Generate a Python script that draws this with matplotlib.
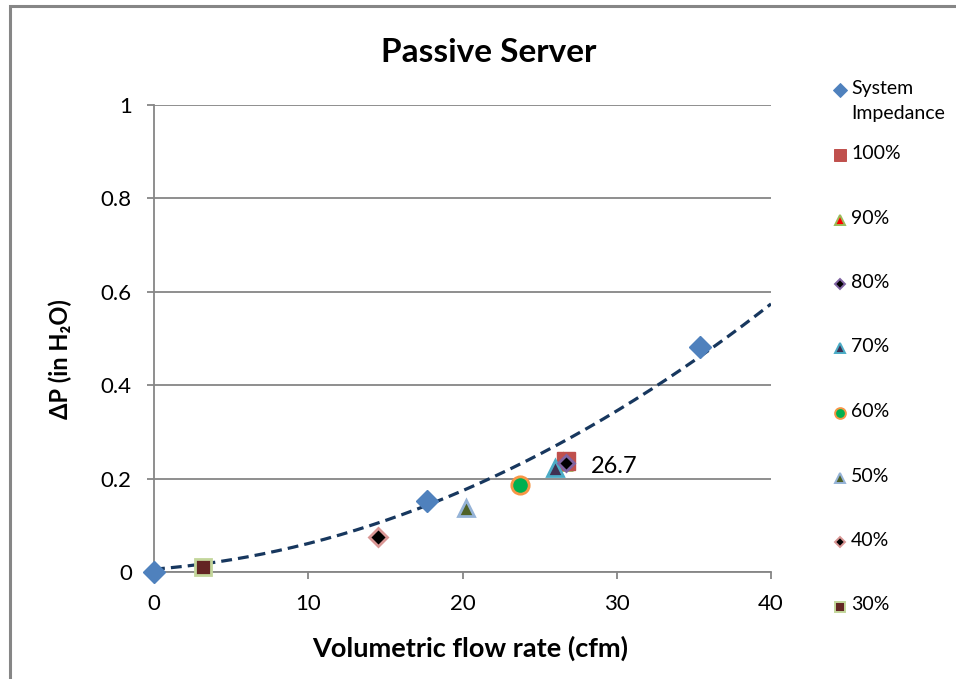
import numpy as np
import matplotlib
matplotlib.use("Agg")
import matplotlib.pyplot as plt
from matplotlib.lines import Line2D
from matplotlib.patches import Rectangle

plt.rcParams['font.family'] = ['Lato', 'DejaVu Sans']

# flow rate (cfm) / pressure drop (in H2O)
sys_x = [0.0, 17.7, 35.4]
sys_y = [0.0, 0.152, 0.482]

fan_labels = ["100%", "90%", "80%", "70%", "60%", "50%", "40%", "30%"]
fan_x = [26.7, 26.5, 26.7, 26.0, 23.7, 20.2, 14.5, 3.2]
fan_y = [0.238, 0.235, 0.234, 0.222, 0.186, 0.137, 0.075, 0.011]

# 2nd order trendline y = a x^2 + b x + c
trend_coef = [2.9e-4, 0.0026, 0.006]

# marker, fill, edge, size, edge width
sys_style = ("D", "#4F81BD", "#4F81BD", 11.5, 1.0)
fan_styles = [
    ("s", "#C0504D", "#C0504D", 13, 1.0),
    ("^", "#FF0000", "#9BBB59", 12, 2.0),
    ("D", "#000000", "#8064A2", 8.5, 2.0),
    ("^", "#403152", "#4BACC6", 12, 2.0),
    ("o", "#00B050", "#F79646", 12.5, 2.0),
    ("^", "#4F6228", "#95B3D7", 12, 2.0),
    ("D", "#000000", "#D99694", 9, 2.0),
    ("s", "#632523", "#C3D69B", 12, 2.0),
]

fig = plt.figure(figsize=(9.56, 6.79), dpi=100)
ax = fig.add_axes([0.1611, 0.1576, 0.6454, 0.6878])

# chart frame
fig.add_artist(Rectangle((10 / 956, -0.01), 1.0, 1 - 6 / 679 + 0.01,
                         transform=fig.transFigure, fill=False,
                         edgecolor="#868686", linewidth=2.2))

xs = np.linspace(0, 40, 200)
ax.plot(xs, np.polyval(trend_coef, xs), color="#17375E", linewidth=2.3,
        dashes=(3.4, 1.9), zorder=3)

m, fc, ec, ms, mew = sys_style
ax.plot(sys_x, sys_y, linestyle="none", marker=m, markerfacecolor=fc,
        markeredgecolor=ec, markersize=ms, markeredgewidth=mew, zorder=4,
        clip_on=False)

# draw the low speeds first so the 100% marker sits under 80%
order = [1, 0, 7, 6, 5, 4, 3, 2]
for i in order:
    m, fc, ec, ms, mew = fan_styles[i]
    ax.plot(fan_x[i], fan_y[i], linestyle="none", marker=m, markerfacecolor=fc,
            markeredgecolor=ec, markersize=ms, markeredgewidth=mew, zorder=5,
            clip_on=False)

ax.annotate(f"{fan_x[0]:.1f}", (fan_x[0], fan_y[0]), xytext=(18, -4),
            textcoords="offset points", fontsize=17, va="center", ha="left")

ax.set_xlim(0, 40)
ax.set_ylim(0, 1)
ax.set_xticks(range(0, 41, 10))
ax.set_yticks([0, 0.2, 0.4, 0.6, 0.8, 1.0])
ax.set_yticklabels(["0", "0.2", "0.4", "0.6", "0.8", "1"])
ax.grid(axis="y", color="#868686", linewidth=1.3)
ax.set_axisbelow(True)
for s in ["top", "right"]:
    ax.spines[s].set_visible(False)
for s in ["left", "bottom"]:
    ax.spines[s].set_color("#868686")
    ax.spines[s].set_linewidth(1.3)
ax.tick_params(length=5, width=1.3, color="#868686", labelsize=16)
ax.tick_params(axis="x", pad=11)
ax.tick_params(axis="y", pad=11)

fig.text(489 / 956, 1 - 52 / 679, "Passive Server", fontsize=24,
         fontweight="bold", ha="center", va="center")
ax.set_xlabel("Volumetric flow rate (cfm)", fontsize=19.5, fontweight="bold")
ax.xaxis.set_label_coords(0.512, -0.137)
ax.set_ylabel("ΔP (in H₂O)", fontsize=17, fontweight="bold")
ax.yaxis.set_label_coords(-0.133, 0.456)

# legend down the right side
legend_items = [("System\nImpedance", sys_style)] + list(zip(fan_labels, fan_styles))
y0 = 1 - 90 / 679
step = 64.5 / 679
for k, (lab, st) in enumerate(legend_items):
    m, fc, ec, ms, mew = st
    y = y0 - (k * step if k == 0 else (k - 1) * step + 65 / 679)
    fig.add_artist(Line2D([840 / 956], [y], transform=fig.transFigure,
                          linestyle="none", marker=m, markerfacecolor=fc,
                          markeredgecolor=ec, markersize=ms * 0.62,
                          markeredgewidth=mew * 0.7))
    fig.text(851 / 956, y + 10 / 679, lab, fontsize=14, va="top", ha="left",
             linespacing=1.55)

fig.savefig("out.png", dpi=100)
